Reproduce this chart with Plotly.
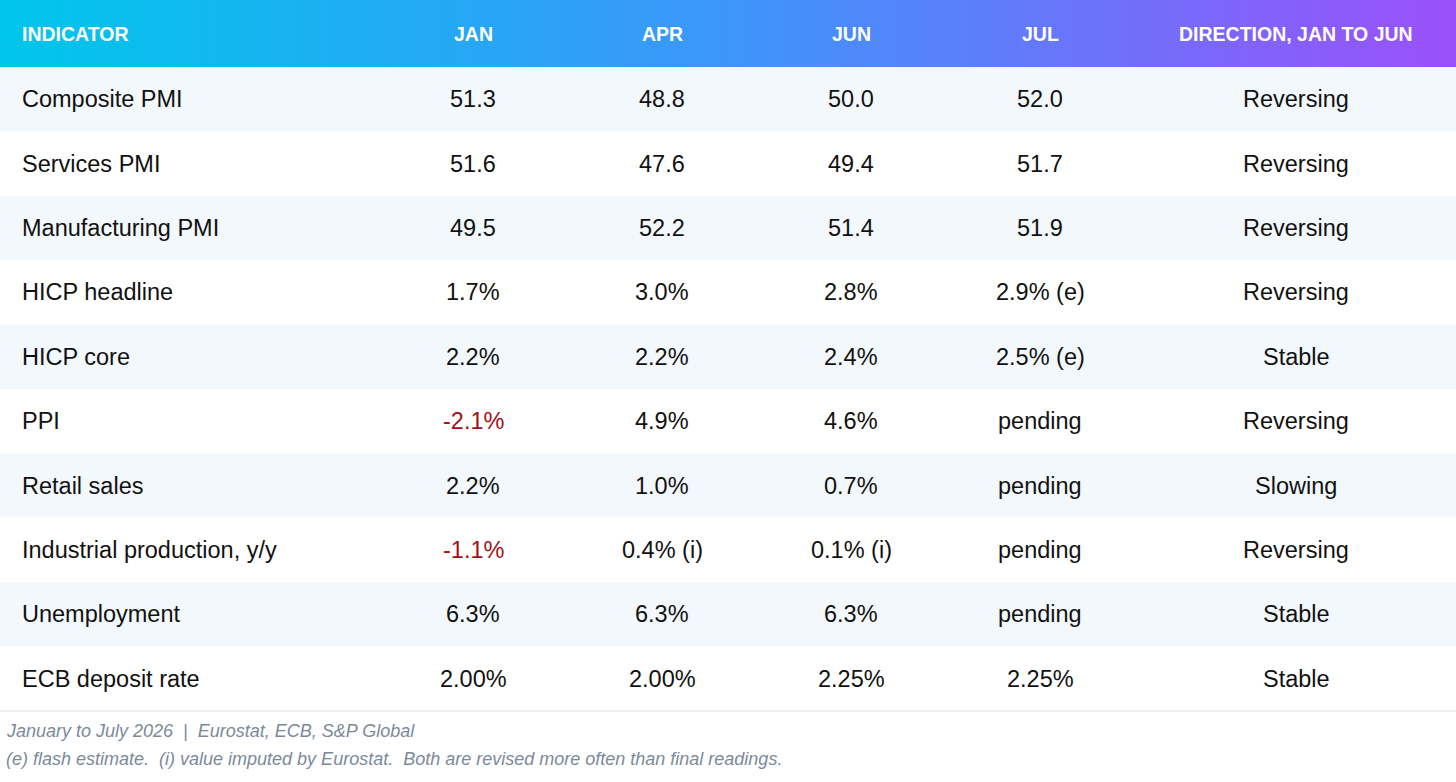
import plotly.graph_objects as go

headers = ["INDICATOR", "JAN", "APR", "JUN", "JUL", "DIRECTION, JAN TO JUN"]
indicators = ["Composite PMI", "Services PMI", "Manufacturing PMI", "HICP headline", "HICP core",
              "PPI", "Retail sales", "Industrial production, y/y", "Unemployment", "ECB deposit rate"]
jan = ["51.3", "51.6", "49.5", "1.7%", "2.2%", "-2.1%", "2.2%", "-1.1%", "6.3%", "2.00%"]
apr = ["48.8", "47.6", "52.2", "3.0%", "2.2%", "4.9%", "1.0%", "0.4% (i)", "6.3%", "2.00%"]
jun = ["50.0", "49.4", "51.4", "2.8%", "2.4%", "4.6%", "0.7%", "0.1% (i)", "6.3%", "2.25%"]
jul = ["52.0", "51.7", "51.9", "2.9% (e)", "2.5% (e)", "pending", "pending", "pending", "pending", "2.25%"]
direction = ["Reversing", "Reversing", "Reversing", "Reversing", "Stable", "Reversing", "Slowing",
             "Reversing", "Stable", "Stable"]
footer = ["January to July 2026  |  Eurostat, ECB, S&P Global",
          "(e) flash estimate.  (i) value imputed by Eurostat.  Both are revised more often than final readings."]

W, H = 1456, 782
HEAD_H = 67
ROW_H = 64.4
col_x = [20, 473, 662, 851, 1040, 1296]
FONT = "Liberation Sans, Arial, sans-serif"

fig = go.Figure()
shapes, annos = [], []

# gradient header: cyan -> blue -> purple
stops = [(0.0, (0, 198, 235)), (0.5, (60, 150, 250)), (1.0, (155, 80, 250))]
def grad(t):
    for (t0, c0), (t1, c1) in zip(stops, stops[1:]):
        if t <= t1:
            f = (t - t0) / (t1 - t0)
            return "rgb(%d,%d,%d)" % tuple(round(a + (b - a) * f) for a, b in zip(c0, c1))
n = 160
for i in range(n):
    x0 = W * i / n
    shapes.append(dict(type="rect", x0=x0, x1=W * (i + 1) / n + 1, y0=0, y1=HEAD_H,
                       fillcolor=grad((i + 0.5) / n), line_width=0, layer="below"))

for j, h in enumerate(headers):
    annos.append(dict(x=col_x[j], y=HEAD_H / 2, text="<b>%s</b>" % h, showarrow=False,
                      xanchor="left" if j == 0 else "center",
                      font=dict(family=FONT, size=19.5, color="white")))

for r in range(len(indicators)):
    y0 = HEAD_H + r * ROW_H
    shapes.append(dict(type="rect", x0=0, x1=W, y0=y0, y1=y0 + ROW_H,
                       fillcolor="#f3f8fd" if r % 2 == 0 else "white", line_width=0, layer="below"))
    yc = y0 + ROW_H / 2
    vals = [indicators[r], jan[r], apr[r], jun[r], jul[r], direction[r]]
    for j, v in enumerate(vals):
        color = "#a50f15" if v.startswith("-") else "#111111"
        annos.append(dict(x=col_x[j], y=yc, text=v, showarrow=False,
                          xanchor="left" if j == 0 else "center",
                          font=dict(family=FONT, size=23.5, color=color)))

line_y = HEAD_H + len(indicators) * ROW_H
shapes.append(dict(type="line", x0=0, x1=W, y0=line_y, y1=line_y, line=dict(color="#dddddd", width=1)))
for k, t in enumerate(footer):
    annos.append(dict(x=4, y=731 + k * 28, text="<i>%s</i>" % t, showarrow=False, xanchor="left",
                      font=dict(family=FONT, size=18, color="#7b8a9b")))

fig.update_layout(width=W, height=H, margin=dict(l=0, r=0, t=0, b=0),
                  paper_bgcolor="white", plot_bgcolor="white",
                  xaxis=dict(range=[0, W], visible=False, fixedrange=True),
                  yaxis=dict(range=[H, 0], visible=False, fixedrange=True),
                  shapes=shapes, annotations=annos, showlegend=False)
fig.write_html("out.html", config={"displayModeBar": False},
               post_script="document.body.style.margin='0';document.body.style.overflow='hidden';")
